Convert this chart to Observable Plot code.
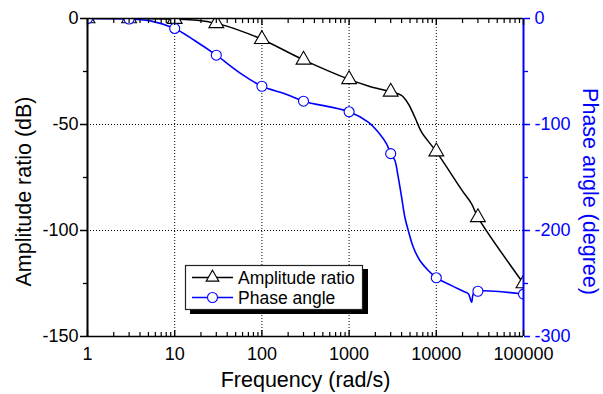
<!DOCTYPE html>
<html><head><meta charset="utf-8">
<script src="https://cdn.jsdelivr.net/npm/d3@7"></script>
<script src="https://cdn.jsdelivr.net/npm/@observablehq/plot@0.6"></script>
<style>
html,body{margin:0;padding:0;background:#fff;}
#wrap{position:relative;width:603px;height:394px;font-family:Arial,"Liberation Sans",sans-serif;}
#legend{position:absolute;left:184px;top:264px;}
</style>
</head><body>
<div id="wrap"><div id="chart"></div><svg id="legend" width="186" height="52"></svg></div>
<script>
// ---- data ----
const seriesNames = ["Amplitude ratio", "Phase angle"];
const frequency   = [1, 3, 10, 30, 100, 300, 1000, 3000, 10000, 30000, 100000];
const amplitudeDb = [0, 0, -0.3, -2.3, -9.8, -19.5, -28.7, -34.6, -62.8, -93.8, -125];
const phaseDeg    = [0, -0.5, -9.4, -34.6, -63.9, -78, -88, -127.5, -244.6, -257.3, -260];

// traced curve (denser reading of the drawn lines)
const ampTraceFreq = [1, 3, 10, 18, 30, 56, 100, 300, 1000, 1660, 3000, 3990, 4770, 5680, 6780, 10000, 20000, 25400, 30000, 100000];
const ampTraceDb   = [0, 0, -0.3, -0.8, -2.3, -5.7, -9.8, -19.5, -28.7, -31.8, -34.6, -36.3, -40.2, -46.6, -53.6, -62.8, -81.4, -87.4, -93.8, -125];
const phaseTraceFreq = [1, 3, 5.4, 10, 16.9, 30, 58, 100, 183, 300, 1000, 1657, 2160, 2690, 3000, 3350, 3660, 4000, 4360, 4770, 5450, 6490, 8090, 10000, 15000, 21300, 23300, 25400, 26600, 30000, 100000];
const phaseTraceDeg  = [0, -0.5, -2.5, -9.4, -20.8, -34.6, -52.2, -63.9, -71, -78, -88, -97.8, -107.3, -118.2, -127.5, -134, -149.7, -168.6, -187.5, -200, -215.8, -228.3, -237.7, -244.6, -252, -258, -259.7, -267.6, -259.7, -257.3, -260];

// ticks
const xTicks = [1, 10, 100, 1000, 10000, 100000];
const xTickLabels = ["1", "10", "100", "1000", "10000", "100000"];
const xGridTicks = [10, 100, 1000, 10000];
const yTicks = [0, -50, -100, -150];
const yTickLabels = ["0", "-50", "-100", "-150"];
const yMinorTicks = [-25, -75, -125];
const phaseTickLabels = ["0", "-100", "-200", "-300"];
const yGridTicks = [-50, -100];
const xMinorTicks = xTicks.slice(0, -1).flatMap(d => [2,3,4,5,6,7,8,9].map(k => d * k));

const blue = "#0000ff";
const toLeft = deg => deg / 2; // phase axis 0..-300 shares the frame with dB axis 0..-150

const ampPts = frequency.map((f, i) => ({f, v: amplitudeDb[i]}));
const phPts = frequency.map((f, i) => ({f, v: toLeft(phaseDeg[i])}));
const ampTrace = ampTraceFreq.map((f, i) => ({f, v: ampTraceDb[i]}));
const phTrace = phaseTraceFreq.map((f, i) => ({f, v: toLeft(phaseTraceDeg[i])}));

const chart = Plot.plot({
  width: 603, height: 394,
  marginLeft: 87, marginRight: 80, marginTop: 18, marginBottom: 58,
  style: {fontFamily: "Arial, 'Liberation Sans', sans-serif", fontSize: "18px", background: "white", color: "black", overflow: "visible"},
  x: {type: "log", domain: [1, 100000], axis: null},
  y: {domain: [-150, 0], axis: null},
  marks: [
    Plot.gridX(xGridTicks, {stroke: "black", strokeOpacity: 1, strokeWidth: 1, strokeDasharray: "1,2"}),
    Plot.gridY(yGridTicks, {stroke: "black", strokeOpacity: 1, strokeWidth: 1, strokeDasharray: "1,2"}),
    Plot.line(ampTrace, {x: "f", y: "v", stroke: "black", strokeWidth: 1.5, curve: "catmull-rom", clip: true}),
    Plot.line(phTrace, {x: "f", y: "v", stroke: blue, strokeWidth: 1.6, curve: "catmull-rom", clip: true}),
    Plot.dot(ampPts, {x: "f", y: "v", symbol: "triangle", r: 5.5, fill: "white", stroke: "black", strokeWidth: 1.1, clip: true}),
    Plot.dot(phPts, {x: "f", y: "v", symbol: "circle", r: 5, fill: "white", stroke: blue, strokeWidth: 1.1, clip: true}),
    Plot.ruleY([-150, 0], {stroke: "black", strokeWidth: 1.6}),
    Plot.ruleX([1], {stroke: "black", strokeWidth: 2}),
    Plot.ruleX([100000], {stroke: blue, strokeWidth: 2}),
    // x axes
    Plot.axisX(xTicks, {anchor: "bottom", tickSize: 0, tickPadding: 11, fontSize: 18, tickFormat: d => xTickLabels[xTicks.indexOf(d)], label: null}),
    Plot.axisX(xTicks, {anchor: "bottom", tickSize: -6, strokeWidth: 1.4, fill: "none", label: null}),
    Plot.axisX(xMinorTicks, {anchor: "bottom", tickSize: -4, strokeWidth: 1.2, fill: "none", label: null}),
    Plot.axisX(xTicks, {anchor: "top", tickSize: -6, strokeWidth: 1.4, fill: "none", label: null}),
    Plot.axisX(xMinorTicks, {anchor: "top", tickSize: -4, strokeWidth: 1.2, fill: "none", label: null}),
    // left axis
    Plot.axisY(yTicks, {anchor: "left", tickSize: 7, tickPadding: 2, strokeWidth: 1.5, fontSize: 18, tickFormat: d => yTickLabels[yTicks.indexOf(d)], label: null}),
    Plot.axisY(yMinorTicks, {anchor: "left", tickSize: 4, strokeWidth: 1.3, fill: "none", label: null}),
    // right (phase) axis
    Plot.axisY(yTicks, {anchor: "right", tickSize: 6, tickPadding: 5, strokeWidth: 1.5, stroke: blue, fill: blue, fontSize: 18, tickFormat: d => phaseTickLabels[yTicks.indexOf(d)], label: null}),
    Plot.axisY(yMinorTicks, {anchor: "right", tickSize: 4, strokeWidth: 1.3, stroke: blue, fill: "none", label: null}),
    // axis titles
    Plot.text(["Frequency (rad/s)"], {text: d => d, frameAnchor: "bottom", dy: 44, textAnchor: "middle", lineAnchor: "middle", fontSize: 21.5, fill: "black"}),
    Plot.text(["Amplitude ratio (dB)"], {text: d => d, frameAnchor: "left", dx: -63, dy: 14, textAnchor: "middle", lineAnchor: "middle", rotate: -90, fontSize: 21.5, fill: "black"}),
    Plot.text(["Phase angle (degree)"], {text: d => d, frameAnchor: "right", dx: 66, dy: 14, textAnchor: "middle", lineAnchor: "middle", rotate: 90, fontSize: 21.5, fill: blue})
  ]
});
document.getElementById("chart").append(chart);

// legend
const lg = d3.select("#legend");
lg.append("rect").attr("x", 6).attr("y", 5).attr("width", 178).attr("height", 45).attr("fill", "black");
lg.append("rect").attr("x", 1.5).attr("y", 1.5).attr("width", 177).attr("height", 44).attr("fill", "white").attr("stroke", "#222").attr("stroke-width", 1.2);
const rowY = [13.5, 33.5];
const colors = ["black", blue];
seriesNames.forEach((name, i) => {
  const y = rowY[i];
  lg.append("line").attr("x1", 8).attr("x2", 49).attr("y1", y).attr("y2", y).attr("stroke", colors[i]).attr("stroke-width", 1.5);
  if (i === 0) {
    lg.append("path").attr("d", d3.symbol(d3.symbolTriangle, 70)()).attr("transform", `translate(28.5,${y})`).attr("fill", "white").attr("stroke", "black").attr("stroke-width", 1.1);
  } else {
    lg.append("circle").attr("cx", 28.5).attr("cy", y).attr("r", 5).attr("fill", "white").attr("stroke", blue).attr("stroke-width", 1.1);
  }
  lg.append("text").attr("x", 54).attr("y", y).attr("dy", "0.35em").attr("font-size", 17.5).attr("font-family", "Arial, 'Liberation Sans', sans-serif").attr("fill", "black").text(name);
});
</script>
</body></html>
